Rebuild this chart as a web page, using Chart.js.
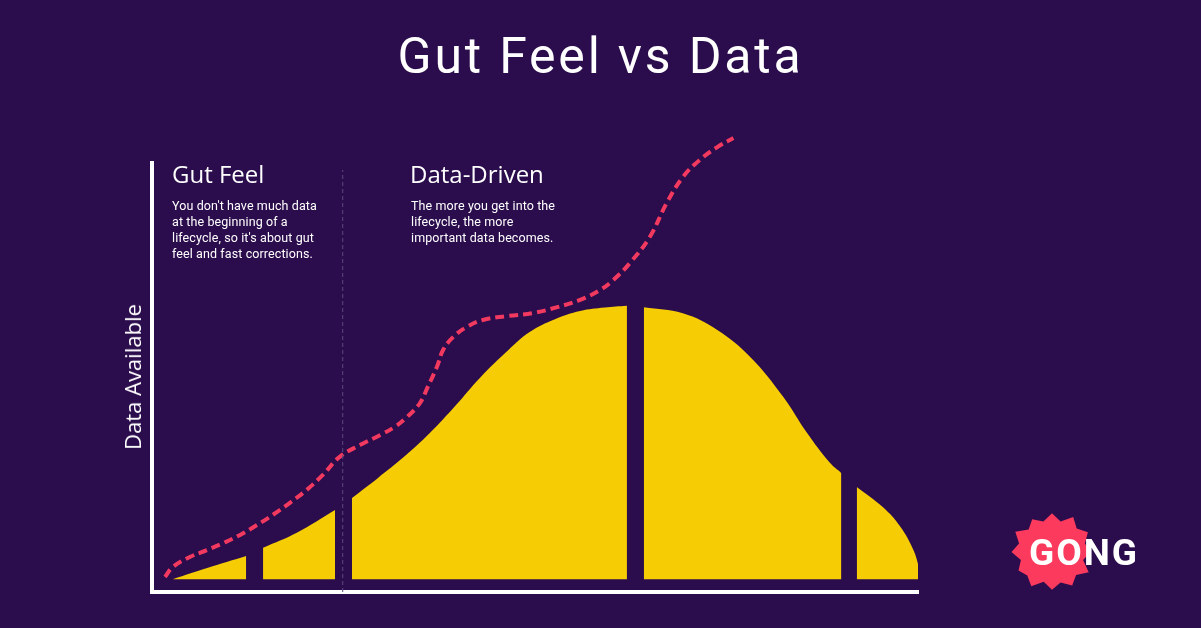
<!DOCTYPE html>
<html>
<head>
<meta charset="utf-8">
<script src="https://cdn.jsdelivr.net/npm/chart.js@4.4.1/dist/chart.umd.min.js"></script>
<style>
	html, body { margin: 0; padding: 0; background: #2b0c4c; overflow: hidden; }
	#wrap { position: relative; width: 1201px; height: 628px; }
	#wrap canvas { position: absolute; left: 0; top: 0; }
	.txt { position: absolute; color: #fff; white-space: nowrap; }
	.title { left: 0; width: 1201px; top: 31px; text-align: center; font: 400 50px/50px Roboto, sans-serif; letter-spacing: 2.8px; }
	.head { top: 162px; font: 400 24px/24px "Open Sans", sans-serif; }
	.body { top: 198px; font: 400 12.5px/16px Roboto, sans-serif; letter-spacing: 0.1px; }
	.ytitle { left: 132px; top: 377px; transform: translate(-50%, -50%) rotate(-90deg); font: 400 22px/22px "Open Sans", sans-serif; }
	.gong { left: 1029px; top: 534px; font: 700 37px/37px Roboto, sans-serif; letter-spacing: 2px; }
	#burst { position: absolute; left: 1006px; top: 506px; }
</style>
</head>
<body>
<div id="wrap">
	<canvas id="chart" width="1201" height="628"></canvas>
	<div class="txt title">Gut Feel vs Data</div>
	<div class="txt head" style="left:172px">Gut Feel</div>
	<div class="txt head" style="left:410px">Data-Driven</div>
	<div class="txt body" style="left:172px">You don't have much data<br>at the beginning of a<br>lifecycle, so it's about gut<br>feel and fast corrections.</div>
	<div class="txt body" style="left:411px">The more you get into the<br>lifecycle, the more<br>important data becomes.</div>
	<div class="txt ytitle">Data Available</div>
	<svg id="burst" width="92" height="92"></svg>
	<div class="txt gong">GONG</div>
</div>
<script>
// Data (x = lifecycle 0-100, y = data available 0-100)
// ================================================================================
// yellow area, null marks the gaps between phases
let area_x = [2.7, 7.2, 12.3, 13.4,
	14.5, 18.9, 23.9, 25.0,
	26.1, 29.5, 32.9, 36.3, 39.6, 42.8, 46.1, 49.3, 52.6, 55.9, 59.1, 62.0, 63.1,
	64.2, 69.3, 73.8, 78.1, 82.4, 85.5, 88.5, 90.0, 91.0,
	92.0, 95.4, 97.7, 99.4, 100.1, 100.3];
let area_y = [3.0, 5.6, 8.4, null,
	10.3, 13.8, 19.1, null,
	21.9, 26.6, 31.5, 37.1, 43.4, 49.9, 55.7, 60.6, 63.6, 65.5, 66.3, 66.7, null,
	66.4, 65.0, 61.1, 54.8, 45.5, 37.1, 30.1, 27.7, null,
	24.5, 19.8, 15.2, 9.8, 5.8, 3.5];
let area_base = 3;

// dashed "data" trend line
let trend_x = [1.7, 2.7, 5.0, 7.2, 9.3, 11.5, 13.7, 15.8, 18.0, 20.2, 22.3, 24.5,
	27.2, 29.8, 31.7, 33.3, 35.0, 36.0, 37.2, 38.0, 39.3, 41.1, 43.2, 46.3, 49.7,
	52.9, 55.9, 58.5, 60.2, 62.4, 65.0, 67.2, 69.3, 71.5, 73.8, 75.9];
let trend_y = [3.5, 5.8, 8.2, 9.8, 11.4, 13.3, 15.6, 18.0, 20.8, 23.8, 27.3, 31.5,
	34.3, 36.6, 38.5, 40.8, 44.1, 47.8, 52.5, 56.4, 59.4, 61.8, 63.4, 64.3, 65.0,
	66.4, 68.1, 70.4, 72.7, 76.7, 82.8, 90.7, 96.7, 100.7, 103.7, 105.8];

// border between the two phases
let phase_split = 24.9;
let phase_top = 98.4;

let yellow = '#f6cc05';
let pink = '#f2395f';

let to_points = (xs, ys) => xs.map((x, i) => ({x: x, y: ys[i]}));

// Chart
// ================================================================================
new Chart(document.getElementById('chart'), {
	type: 'line',
	data: {
		datasets: [
			{
				data: [{x: phase_split, y: 0}, {x: phase_split, y: phase_top}],
				borderColor: '#5d4a7e',
				borderWidth: 1,
				borderDash: [4, 3],
				pointRadius: 0,
				fill: false
			},
			{
				data: to_points(area_x, area_y),
				borderWidth: 0,
				borderColor: yellow,
				backgroundColor: yellow,
				pointRadius: 0,
				tension: 0.4,
				fill: {value: area_base},
				spanGaps: false,
				clip: false
			},
			{
				data: to_points(trend_x, trend_y),
				borderColor: pink,
				borderWidth: 4,
				borderDash: [9, 5],
				pointRadius: 0,
				tension: 0.4,
				fill: false,
				clip: false
			}
		]
	},
	options: {
		responsive: false,
		animation: false,
		layout: { padding: { left: 152, right: 283, top: 163, bottom: 36 } },
		plugins: { legend: { display: false }, tooltip: { enabled: false } },
		scales: {
			x: {
				type: 'linear', min: 0, max: 100,
				grid: { display: false, drawTicks: false },
				ticks: { display: false },
				border: { display: true, color: '#ffffff', width: 4 }
			},
			y: {
				min: 0, max: 100,
				grid: { display: false, drawTicks: false },
				ticks: { display: false },
				border: { display: true, color: '#ffffff', width: 4 }
			}
		}
	}
});

// Logo burst
// ================================================================================
let burst_r = [44, 36, 46, 38, 45, 37, 42, 35, 46, 37, 44, 36, 43, 35, 45, 38, 42, 35, 44, 37, 46, 36, 43, 36];
let burst_pts = burst_r.map((r, i) => {
	let a = i / burst_r.length * Math.PI * 2 - Math.PI / 2;
	return (46 + Math.cos(a) * r * 0.92).toFixed(1) + ',' + (46 + Math.sin(a) * r * 0.88).toFixed(1);
}).join(' ');
document.getElementById('burst').innerHTML = '<polygon fill="#fb3a5d" points="' + burst_pts + '"/>';
</script>
</body>
</html>
